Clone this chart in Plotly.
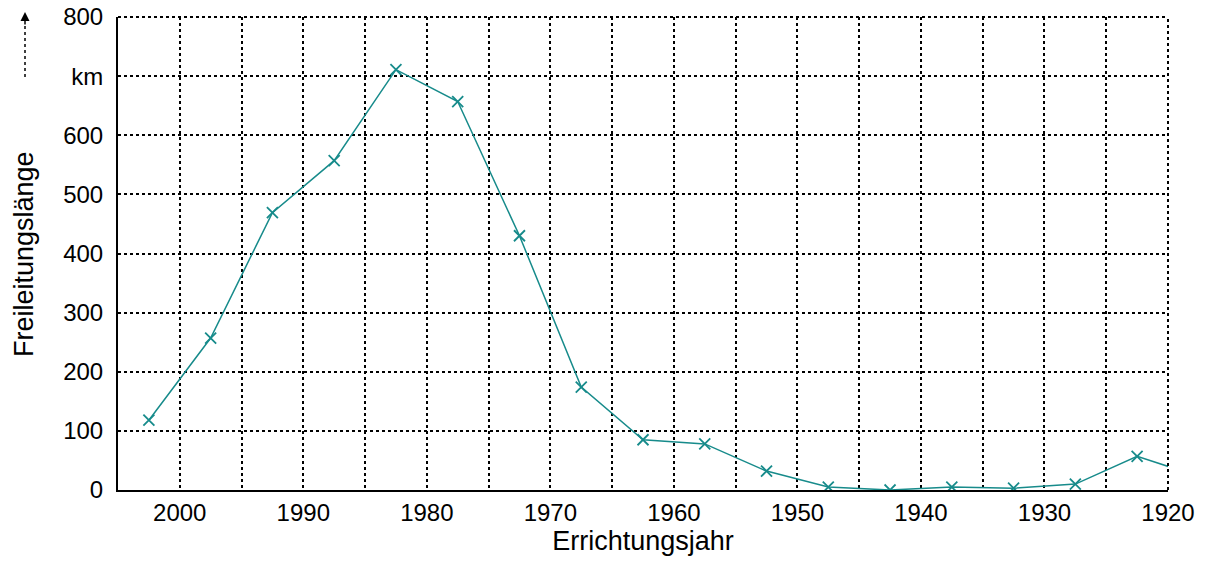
import plotly.graph_objects as go

# Errichtungsjahr (Mitte der 5-Jahres-Klassen) und Freileitungslänge in km
years = [2002.5, 1997.5, 1992.5, 1987.5, 1982.5, 1977.5, 1972.5, 1967.5, 1962.5,
         1957.5, 1952.5, 1947.5, 1942.5, 1937.5, 1932.5, 1927.5, 1922.5, 1917.5]
length_km = [118, 257, 469, 557, 711, 657, 430, 174, 85,
             78, 32, 5, 0, 5, 3, 10, 57, 23]

x_tickvals = list(range(1920, 2006, 5))
x_ticktext = [str(v) if v % 10 == 0 and v < 2005 else '' for v in x_tickvals]
y_tickvals = [0, 100, 200, 300, 400, 500, 600, 700, 800]
y_ticktext = ['0', '100', '200', '300', '400', '500', '600', 'km', '800']

teal = '#178b8b'
font = 'Liberation Sans, Arial, sans-serif'

fig = go.Figure()
fig.add_trace(go.Scatter(
    x=years, y=length_km, mode='lines+markers',
    line=dict(color=teal, width=1.5),
    marker=dict(symbol='x-thin', size=11, color=teal, line=dict(color=teal, width=1.8)),
    cliponaxis=True, showlegend=False,
))

fig.update_layout(
    width=1209, height=565,
    plot_bgcolor='white', paper_bgcolor='white',
    margin=dict(l=118, r=41, t=17, b=75, autoexpand=False),
    font=dict(family=font, size=24, color='black'),
    xaxis=dict(
        range=[2005, 1920], tickvals=x_tickvals, ticktext=x_ticktext,
        showgrid=True, gridcolor='black', gridwidth=2, griddash='dot',
        showline=True, linecolor='black', linewidth=2, zeroline=False,
        ticks='', ticklabelstandoff=0, automargin=False,
        title=dict(text='Errichtungsjahr', standoff=2, font=dict(size=27)),
    ),
    yaxis=dict(
        range=[0, 800], tickvals=y_tickvals, ticktext=y_ticktext,
        showgrid=True, gridcolor='black', gridwidth=2, griddash='dot',
        showline=True, linecolor='black', linewidth=2, zeroline=False,
        ticks='', ticklabelstandoff=8, automargin=False,
    ),
)

# gepunkteter Rahmen oben und rechts
fig.add_shape(type='line', xref='paper', yref='paper', x0=0, x1=1, y0=1, y1=1,
              line=dict(color='black', width=2, dash='dot'))
fig.add_shape(type='line', xref='paper', yref='paper', x0=1, x1=1, y0=0, y1=1,
              line=dict(color='black', width=2, dash='dot'))

# y-Achsentitel mit Pfeil
fig.add_annotation(
    text='Freileitungslänge', textangle=-90, xref='paper', yref='paper',
    x=(24 - 118) / 1050, y=(490 - 254) / 473, showarrow=False,
    font=dict(size=27), xanchor='center', yanchor='middle',
)
fig.add_shape(
    type='line', xref='paper', yref='paper',
    x0=(25 - 118) / 1050, x1=(25 - 118) / 1050,
    y0=(490 - 77) / 473, y1=(490 - 25) / 473,
    line=dict(color='black', width=1.5, dash='dot'),
)
fig.add_annotation(
    xref='paper', yref='paper', x=(25 - 118) / 1050, y=(490 - 12) / 473,
    ax=0, ay=14, text='', showarrow=True, arrowhead=2, arrowsize=1.2,
    arrowwidth=1.5, arrowcolor='black',
)

fig.write_html('out.html', config={'displayModeBar': False},
               post_script="document.body.style.margin='0';document.body.style.overflow='hidden';")
